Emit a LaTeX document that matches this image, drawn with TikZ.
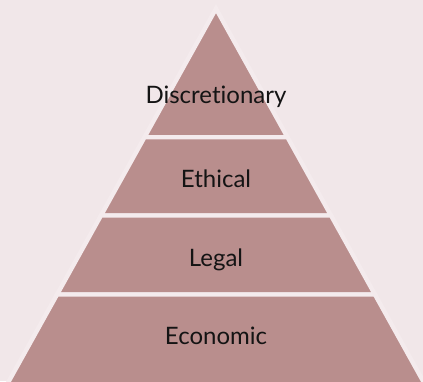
\documentclass[tikz,border=0pt]{standalone}
\usepackage{fontspec}
\setmainfont{Lato}[Ligatures={NoCommon}]
\usetikzlibrary{positioning, calc}

\definecolor{fundo}{HTML}{F1E7E9}
\definecolor{fenda}{HTML}{F4EBED}
\definecolor{camadacor}{HTML}{B98E8D}
\definecolor{texto}{HTML}{141414}

\begin{document}
\begin{tikzpicture}[x=1pt, y=-1pt, line join=miter]

  % --- CONFIGURAÇÕES GERAIS ---
  \def\ax{216}   % x do vértice
  \def\ay{8.6}   % y do vértice
  \def\k{0.556}  % meia-largura por unidade de altura

  % Estilo das camadas e dos rótulos
  \tikzstyle{camada}=[fill=camadacor, draw=fenda, line width=4.4pt]
  \tikzstyle{rotulo}=[anchor=base, inner sep=0pt, text=texto, font=\fontsize{24}{28}\selectfont]

  % Fundo
  \fill[fundo] (0,0) rectangle (423,381);
  \useasboundingbox (0,0) rectangle (423,381);

  % --- CAMADAS DA PIRÂMIDE ---
  % Topo (triângulo)
  \draw[camada] (\ax,\ay) -- ({\ax+\k*(137.2-\ay)},137.2) -- ({\ax-\k*(137.2-\ay)},137.2) -- cycle;

  % Trapézios (de cima para baixo)
  \foreach \yt/\yb in {137.2/215.5, 215.5/294.5, 294.5/386} {
    \draw[camada] ({\ax-\k*(\yt-\ay)},\yt) -- ({\ax+\k*(\yt-\ay)},\yt)
      -- ({\ax+\k*(\yb-\ay)},\yb) -- ({\ax-\k*(\yb-\ay)},\yb) -- cycle;
  }

  % --- RÓTULOS ---
  \node[rotulo] (disc) at (216,103) {Discretionary};
  \node[rotulo] (eth) at (216,187) {Ethical};
  \node[rotulo] (leg) at (216,266) {Legal};
  \node[rotulo] (eco) at (216,344) {Economic};

\end{tikzpicture}
\end{document}
